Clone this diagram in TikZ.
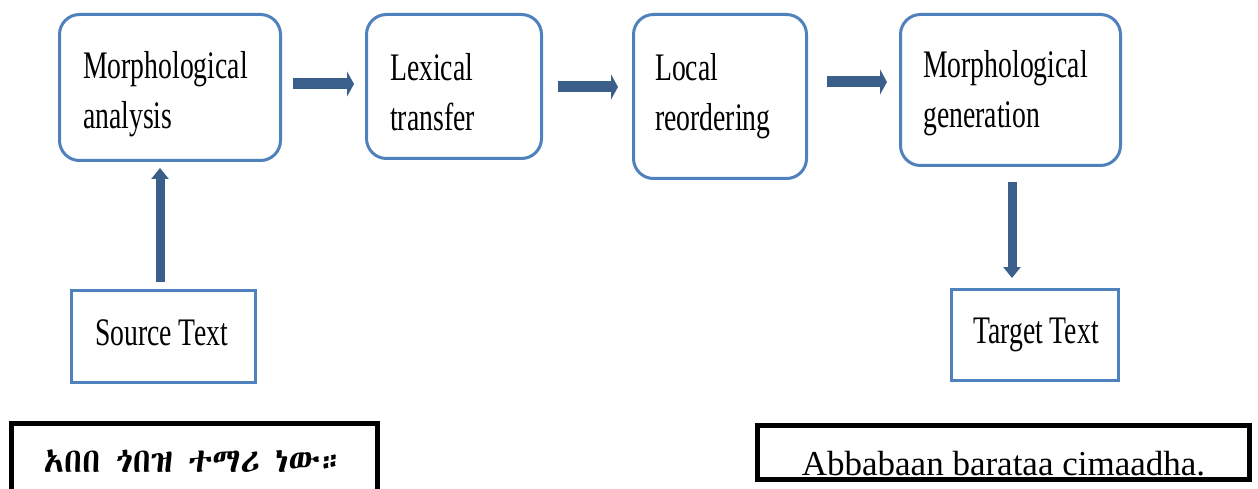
\documentclass[tikz,border=0pt]{standalone}
\usepackage{fontspec}
\usetikzlibrary{arrows.meta}
\setmainfont{Liberation Serif}
\newfontfamily\condfont[FakeStretch=0.71]{Liberation Serif}
\newif\ifethfound
\newcommand\tryethfont[1]{%
  \ifethfound\else
    \IfFontExistsTF{#1}{%
      \setbox0=\hbox{\fontspec{#1}\iffontchar\font"12A0\relax\global\ethfoundtrue\fi}%
      \ifethfound\newfontfamily\ethfont{#1}\fi
    }{}%
  \fi}
\tryethfont{Abyssinica SIL}
\tryethfont{FreeSerif}
\tryethfont{Ethiopia Jiret}
\tryethfont{Unifont}
\ifethfound\else\newfontfamily\ethfont{DejaVu Sans}\fi
\definecolor{boxblue}{HTML}{4F81BD}
\definecolor{arrblue}{HTML}{3A5F8B}
\begin{document}
\begin{tikzpicture}[x=1pt,y=-1pt,
 procbox/.style={draw=boxblue, line width=3pt, rounded corners=20pt, inner sep=0pt},
 endbox/.style={draw=boxblue, line width=3pt, inner sep=0pt},
 exbox/.style={draw=black, line width=5pt, inner sep=0pt},
 lbl/.style={inner sep=0pt, align=left, font=\condfont\fontsize{39}{50}\selectfont},
 slbl/.style={inner sep=0pt, font=\condfont\fontsize{39}{50}\selectfont},
 harr/.style={draw=arrblue, line width=11pt, -{Triangle[width=25pt,length=7pt]}},
 varr/.style={draw=arrblue, line width=9pt, -{Triangle[width=17pt,length=11pt]}},
]
\clip (0,0) rectangle (1258,489);
\fill[white] (0,0) rectangle (1258,489);

% process boxes
\node[procbox, minimum width=221pt, minimum height=146pt] (b1) at (170,87.5) {};
\node[procbox, minimum width=175pt, minimum height=144pt] (b2) at (454,86.5) {};
\node[procbox, minimum width=173pt, minimum height=164pt] (b3) at (720,96.5) {};
\node[procbox, minimum width=220pt, minimum height=151pt] (b4) at (1010.5,90) {};

\node[lbl, anchor=north west] (t1) at (83,51.4) {Morphological\\analysis};
\node[lbl, anchor=north west] (t2) at (390,53.4) {Lexical\\transfer};
\node[lbl, anchor=north west] (t3) at (655,53.4) {Local\\reordering};
\node[lbl, anchor=north west] (t4) at (923,50.4) {Morphological\\generation};

% source / target
\node[endbox, minimum width=184pt, minimum height=92pt] (src) at (163.5,336.5) {};
\node[endbox, minimum width=167pt, minimum height=91pt] (tgt) at (1035,335) {};
\node[slbl, anchor=base west] (srct) at (95,345) {Source Text};
\node[slbl, anchor=base west] (tgtt) at (973,343) {Target Text};

% example boxes
\node[exbox, minimum width=366pt, minimum height=100pt] (am) at (194.5,473) {};
\node[exbox, minimum width=492pt, minimum height=54pt] (om) at (1003.5,452.5) {};
\node[inner sep=0pt, anchor=base, font=\ethfont\fontsize{34}{40}\selectfont] (amt) at (194,472) {አበበ ጎበዝ ተማሪ ነው።};
\node[inner sep=0pt, anchor=base, font=\fontsize{35}{42}\selectfont] (omt) at (1003.5,475) {Abbabaan barataa cimaadha.};

% connectors
\draw[harr, shorten <=11pt, shorten >=11pt] ([yshift=3.5pt]b1.east) -- ([yshift=2.5pt]b2.west);
\draw[harr, shorten <=15pt, shorten >=14pt] ([yshift=-0.5pt]b2.east) -- ([yshift=9.5pt]b3.west);
\draw[harr, shorten <=19pt, shorten >=12pt] ([yshift=14.5pt]b3.east) -- ([yshift=8pt]b4.west);
\coordinate (srcTop) at ([xshift=-3.5pt]src.north);
\coordinate (genBot) at ([xshift=1.5pt]b4.south);
\draw[varr, shorten <=7pt, shorten >=6pt] (srcTop) -- (srcTop |- b1.south);
\draw[varr, shorten <=15pt, shorten >=10pt] (genBot) -- (genBot |- tgt.north);
\end{tikzpicture}
\end{document}
